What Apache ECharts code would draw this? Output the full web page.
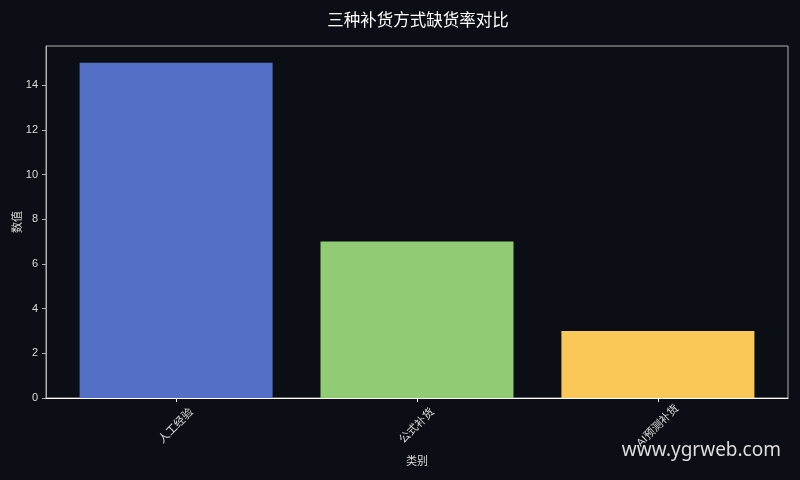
<!DOCTYPE html>
<html>
<head>
<meta charset="utf-8">
<script src="https://cdn.jsdelivr.net/npm/echarts@6/dist/echarts.min.js"></script>
<style>
  html, body { margin: 0; padding: 0; background: #0b0e14; }
  #main { width: 800px; height: 480px; }
</style>
</head>
<body>
<div id="main"></div>
<script>
// 数据
var categories = ['人工经验', '公式补货', 'AI预测补货'];
var values = [15, 7, 3];
var barColors = ['#5470c6', '#91cc75', '#fac858'];
var yTicks = [0, 2, 4, 6, 8, 10, 12, 14];

var font = '"Liberation Sans", "Noto Sans CJK SC", sans-serif';
var cjkFont = '"Noto Sans CJK SC", sans-serif';
var myChart = echarts.init(document.getElementById('main'));

var barData = [];
for (var i = 0; i < values.length; i++) {
  barData.push({ value: [i, values[i]], itemStyle: { color: barColors[i] } });
}

var option = {
  backgroundColor: '#0b0e14',
  animation: false,
  title: {
    text: '三种补货方式缺货率对比',
    left: 413,
    textAlign: 'center',
    top: 6,
    textStyle: { color: '#ffffff', fontSize: 16.5, fontWeight: 'normal', fontFamily: cjkFont }
  },
  grid: {
    left: 46, right: 12, top: 46, bottom: 82,
    outerBoundsMode: 'none',
    containLabel: false,
    show: true, borderColor: '#b0b0b0', borderWidth: 1, backgroundColor: 'transparent'
  },
  xAxis: {
    type: 'value',
    min: -0.54, max: 2.54,
    name: '类别',
    nameLocation: 'middle',
    nameGap: 57,
    nameMoveOverlap: false,
    nameTextStyle: { color: '#dddddd', fontSize: 11, fontFamily: cjkFont },
    axisLine: { show: true, onZero: false, lineStyle: { color: '#ffffff', width: 1 } },
    axisTick: { show: true, customValues: [0, 1, 2], length: 4, lineStyle: { color: '#ffffff' } },
    axisLabel: {
      customValues: [0, 1, 2],
      rotate: 45,
      align: 'center',
      verticalAlign: 'middle',
      margin: 28,
      color: '#dddddd', fontSize: 11, fontFamily: font,
      formatter: function (v) { return categories[Math.round(v)]; }
    },
    splitLine: { show: false }
  },
  yAxis: {
    type: 'value',
    min: 0, max: 15.75, interval: 2,
    name: '数值',
    nameLocation: 'middle',
    nameGap: 24,
    nameMoveOverlap: false,
    nameTextStyle: { color: '#dddddd', fontSize: 11, fontFamily: cjkFont },
    axisLine: { show: true, onZero: false, lineStyle: { color: '#b0b0b0', width: 1 } },
    axisTick: { show: true, customValues: yTicks, length: 4, lineStyle: { color: '#b0b0b0' } },
    axisLabel: { customValues: yTicks, color: '#dddddd', fontSize: 11, fontFamily: font },
    splitLine: { show: false }
  },
  series: [{
    type: 'bar',
    barWidth: 193,
    data: barData
  }],
  graphic: [{
    type: 'text',
    right: 19,
    bottom: 20,
    style: { text: 'www.ygrweb.com', fill: '#dcdcdc', fontSize: 19, fontFamily: '"Noto Sans", sans-serif' }
  }]
};
myChart.setOption(option);
</script>
</body>
</html>
